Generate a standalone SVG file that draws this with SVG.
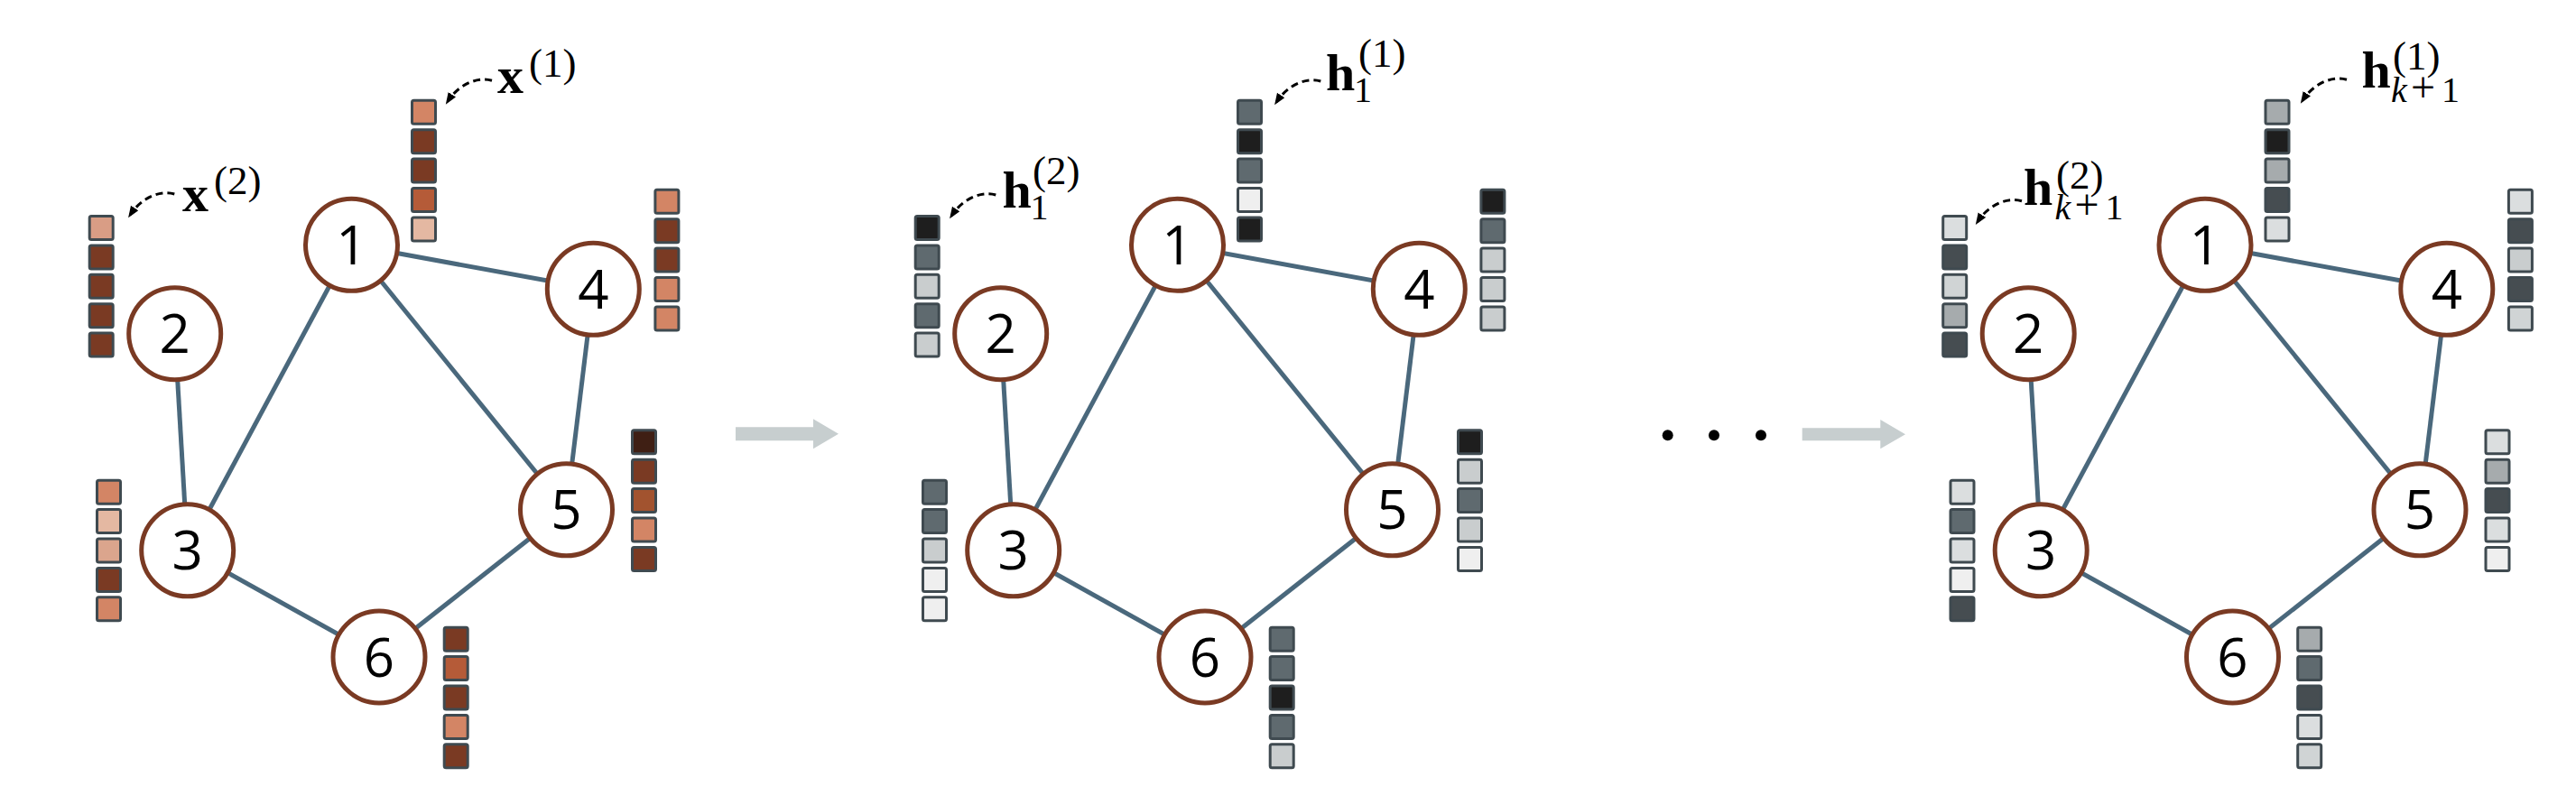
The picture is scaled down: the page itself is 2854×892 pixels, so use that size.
<svg xmlns="http://www.w3.org/2000/svg" xmlns:xlink="http://www.w3.org/1999/xlink" width="2854" height="892" viewBox="0 0 2854 892">
<style>
.edge{stroke:#4a687c;stroke-width:5;fill:none}
.node circle{fill:#fff;stroke:#7a3a23;stroke-width:5}
.node text{font-family:"Open Sans","Noto Sans",sans-serif;font-size:60px;text-anchor:middle;fill:#000}
.sq{stroke:#3f4a50;stroke-width:3}
.lbl{font-family:"Liberation Serif",serif;fill:#000}
.bold{font-weight:bold;font-size:58px}
.sup{font-size:45px}
.sub{font-size:40px}
.plus{font-size:48px}
.it{font-style:italic}
.dash{fill:none;stroke:#000;stroke-width:3;stroke-dasharray:8 5;marker-end:url(#ah)}
.flow{fill:#c7cecf}
</style>
<defs>
<marker id="ah" markerUnits="userSpaceOnUse" markerWidth="14" markerHeight="12" refX="9" refY="5" orient="auto">
<path d="M0,0 L13,5 L0,10 z" fill="#000"/>
</marker>
<path id="curl" class="dash" d="M0,0 C-18,-5 -38,6 -49,23"/>
</defs>
<rect width="2854" height="892" fill="#fff"/>

<!-- connectors -->
<g id="connectors">
<g id="edges-p1">
<line class="edge" x1="389.5" y1="271.3" x2="657.3" y2="320.3"/>
<line class="edge" x1="389.5" y1="271.3" x2="207.7" y2="609.8"/>
<line class="edge" x1="389.5" y1="271.3" x2="627.5" y2="564.8"/>
<line class="edge" x1="193.7" y1="369.7" x2="207.7" y2="609.8"/>
<line class="edge" x1="657.3" y1="320.3" x2="627.5" y2="564.8"/>
<line class="edge" x1="207.7" y1="609.8" x2="420" y2="728"/>
<line class="edge" x1="627.5" y1="564.8" x2="420" y2="728"/>
</g>
<g id="edges-p2" transform="translate(915,0)">
<line class="edge" x1="389.5" y1="271.3" x2="657.3" y2="320.3"/>
<line class="edge" x1="389.5" y1="271.3" x2="207.7" y2="609.8"/>
<line class="edge" x1="389.5" y1="271.3" x2="627.5" y2="564.8"/>
<line class="edge" x1="193.7" y1="369.7" x2="207.7" y2="609.8"/>
<line class="edge" x1="657.3" y1="320.3" x2="627.5" y2="564.8"/>
<line class="edge" x1="207.7" y1="609.8" x2="420" y2="728"/>
<line class="edge" x1="627.5" y1="564.8" x2="420" y2="728"/>
</g>
<g id="edges-p3" transform="translate(2053.5,0)">
<line class="edge" x1="389.5" y1="271.3" x2="657.3" y2="320.3"/>
<line class="edge" x1="389.5" y1="271.3" x2="207.7" y2="609.8"/>
<line class="edge" x1="389.5" y1="271.3" x2="627.5" y2="564.8"/>
<line class="edge" x1="193.7" y1="369.7" x2="207.7" y2="609.8"/>
<line class="edge" x1="657.3" y1="320.3" x2="627.5" y2="564.8"/>
<line class="edge" x1="207.7" y1="609.8" x2="420" y2="728"/>
<line class="edge" x1="627.5" y1="564.8" x2="420" y2="728"/>
</g>
<path id="flow1" class="flow" d="M815,473.3 H901 V464.3 L929,480.8 L901,497.3 V488.3 H815 Z"/>
<path id="flow2" class="flow" d="M1996.7,474.3 H2083.3 V465 L2111,481.2 L2083.3,497.3 V488.3 H1996.7 Z"/>
<g id="label-arrows">
<use xlink:href="#curl" x="545" y="89.3"/>
<use xlink:href="#curl" x="193.3" y="215"/>
<use xlink:href="#curl" x="1463.3" y="90"/>
<use xlink:href="#curl" x="1103.3" y="216"/>
<use xlink:href="#curl" x="2600" y="88.3"/>
<use xlink:href="#curl" x="2240" y="222.7"/>
</g>
</g>

<g id="ellipsis" fill="#000">
<circle cx="1847.7" cy="482.3" r="6"/>
<circle cx="1899" cy="482.3" r="6"/>
<circle cx="1951" cy="482.3" r="6"/>
</g>

<!-- panel 1 -->
<g id="panel1">
<g id="p1-n1" class="node"><circle cx="389.5" cy="271.3" r="51"/><text x="389.5" y="292.8">1</text>
<g transform="translate(455,109.8)"><rect class="sq" x="1.5" y="1.5" width="26" height="26" rx="2" fill="#d38565"/><rect class="sq" x="1.5" y="33.9" width="26" height="26" rx="2" fill="#7a3a23"/><rect class="sq" x="1.5" y="66.3" width="26" height="26" rx="2" fill="#7a3a23"/><rect class="sq" x="1.5" y="98.7" width="26" height="26" rx="2" fill="#b55b38"/><rect class="sq" x="1.5" y="131.1" width="26" height="26" rx="2" fill="#e4b8a2"/></g></g>
<g id="p1-n2" class="node"><circle cx="193.7" cy="369.7" r="51"/><text x="193.7" y="391.2">2</text>
<g transform="translate(97.7,238)"><rect class="sq" x="1.5" y="1.5" width="26" height="26" rx="2" fill="#d99d85"/><rect class="sq" x="1.5" y="33.9" width="26" height="26" rx="2" fill="#7a3a23"/><rect class="sq" x="1.5" y="66.3" width="26" height="26" rx="2" fill="#7a3a23"/><rect class="sq" x="1.5" y="98.7" width="26" height="26" rx="2" fill="#7a3a23"/><rect class="sq" x="1.5" y="131.1" width="26" height="26" rx="2" fill="#7a3a23"/></g></g>
<g id="p1-n3" class="node"><circle cx="207.7" cy="609.8" r="51"/><text x="207.7" y="631.3">3</text>
<g transform="translate(106,530.7)"><rect class="sq" x="1.5" y="1.5" width="26" height="26" rx="2" fill="#d38565"/><rect class="sq" x="1.5" y="33.9" width="26" height="26" rx="2" fill="#e4b8a2"/><rect class="sq" x="1.5" y="66.3" width="26" height="26" rx="2" fill="#dba58d"/><rect class="sq" x="1.5" y="98.7" width="26" height="26" rx="2" fill="#7a3a23"/><rect class="sq" x="1.5" y="131.1" width="26" height="26" rx="2" fill="#d38565"/></g></g>
<g id="p1-n4" class="node"><circle cx="657.3" cy="320.3" r="51"/><text x="657.3" y="341.8">4</text>
<g transform="translate(724.4,208.8)"><rect class="sq" x="1.5" y="1.5" width="26" height="26" rx="2" fill="#d38565"/><rect class="sq" x="1.5" y="33.9" width="26" height="26" rx="2" fill="#7a3a23"/><rect class="sq" x="1.5" y="66.3" width="26" height="26" rx="2" fill="#7a3a23"/><rect class="sq" x="1.5" y="98.7" width="26" height="26" rx="2" fill="#d38565"/><rect class="sq" x="1.5" y="131.1" width="26" height="26" rx="2" fill="#d38565"/></g></g>
<g id="p1-n5" class="node"><circle cx="627.5" cy="564.8" r="51"/><text x="627.5" y="586.3">5</text>
<g transform="translate(699,475.3)"><rect class="sq" x="1.5" y="1.5" width="26" height="26" rx="2" fill="#3f1f14"/><rect class="sq" x="1.5" y="33.9" width="26" height="26" rx="2" fill="#7a3a23"/><rect class="sq" x="1.5" y="66.3" width="26" height="26" rx="2" fill="#a2532f"/><rect class="sq" x="1.5" y="98.7" width="26" height="26" rx="2" fill="#d38565"/><rect class="sq" x="1.5" y="131.1" width="26" height="26" rx="2" fill="#7a3a23"/></g></g>
<g id="p1-n6" class="node"><circle cx="420" cy="728" r="51"/><text x="420" y="749.5">6</text>
<g transform="translate(490.7,693.7)"><rect class="sq" x="1.5" y="1.5" width="26" height="26" rx="2" fill="#7a3a23"/><rect class="sq" x="1.5" y="33.9" width="26" height="26" rx="2" fill="#b55b38"/><rect class="sq" x="1.5" y="66.3" width="26" height="26" rx="2" fill="#7a3a23"/><rect class="sq" x="1.5" y="98.7" width="26" height="26" rx="2" fill="#d38565"/><rect class="sq" x="1.5" y="131.1" width="26" height="26" rx="2" fill="#7a3a23"/></g></g>
</g>

<!-- panel 2 -->
<g id="panel2" transform="translate(915,0)">
<g id="p2-n1" class="node"><circle cx="389.5" cy="271.3" r="51"/><text x="389.5" y="292.8">1</text>
<g transform="translate(455,109.8)"><rect class="sq" x="1.5" y="1.5" width="26" height="26" rx="2" fill="#5f6a6f"/><rect class="sq" x="1.5" y="33.9" width="26" height="26" rx="2" fill="#1e1e1e"/><rect class="sq" x="1.5" y="66.3" width="26" height="26" rx="2" fill="#5f6a6f"/><rect class="sq" x="1.5" y="98.7" width="26" height="26" rx="2" fill="#efefef"/><rect class="sq" x="1.5" y="131.1" width="26" height="26" rx="2" fill="#1e1e1e"/></g></g>
<g id="p2-n2" class="node"><circle cx="193.7" cy="369.7" r="51"/><text x="193.7" y="391.2">2</text>
<g transform="translate(97.7,238)"><rect class="sq" x="1.5" y="1.5" width="26" height="26" rx="2" fill="#1e1e1e"/><rect class="sq" x="1.5" y="33.9" width="26" height="26" rx="2" fill="#5f6a6f"/><rect class="sq" x="1.5" y="66.3" width="26" height="26" rx="2" fill="#c9cdce"/><rect class="sq" x="1.5" y="98.7" width="26" height="26" rx="2" fill="#5f6a6f"/><rect class="sq" x="1.5" y="131.1" width="26" height="26" rx="2" fill="#c9cdce"/></g></g>
<g id="p2-n3" class="node"><circle cx="207.7" cy="609.8" r="51"/><text x="207.7" y="631.3">3</text>
<g transform="translate(106,530.7)"><rect class="sq" x="1.5" y="1.5" width="26" height="26" rx="2" fill="#5f6a6f"/><rect class="sq" x="1.5" y="33.9" width="26" height="26" rx="2" fill="#5f6a6f"/><rect class="sq" x="1.5" y="66.3" width="26" height="26" rx="2" fill="#c9cdce"/><rect class="sq" x="1.5" y="98.7" width="26" height="26" rx="2" fill="#efefef"/><rect class="sq" x="1.5" y="131.1" width="26" height="26" rx="2" fill="#efefef"/></g></g>
<g id="p2-n4" class="node"><circle cx="657.3" cy="320.3" r="51"/><text x="657.3" y="341.8">4</text>
<g transform="translate(724.4,208.8)"><rect class="sq" x="1.5" y="1.5" width="26" height="26" rx="2" fill="#1e1e1e"/><rect class="sq" x="1.5" y="33.9" width="26" height="26" rx="2" fill="#5f6a6f"/><rect class="sq" x="1.5" y="66.3" width="26" height="26" rx="2" fill="#c9cdce"/><rect class="sq" x="1.5" y="98.7" width="26" height="26" rx="2" fill="#c9cdce"/><rect class="sq" x="1.5" y="131.1" width="26" height="26" rx="2" fill="#c9cdce"/></g></g>
<g id="p2-n5" class="node"><circle cx="627.5" cy="564.8" r="51"/><text x="627.5" y="586.3">5</text>
<g transform="translate(699,475.3)"><rect class="sq" x="1.5" y="1.5" width="26" height="26" rx="2" fill="#1e1e1e"/><rect class="sq" x="1.5" y="33.9" width="26" height="26" rx="2" fill="#c9cdce"/><rect class="sq" x="1.5" y="66.3" width="26" height="26" rx="2" fill="#5f6a6f"/><rect class="sq" x="1.5" y="98.7" width="26" height="26" rx="2" fill="#c9cdce"/><rect class="sq" x="1.5" y="131.1" width="26" height="26" rx="2" fill="#efefef"/></g></g>
<g id="p2-n6" class="node"><circle cx="420" cy="728" r="51"/><text x="420" y="749.5">6</text>
<g transform="translate(490.7,693.7)"><rect class="sq" x="1.5" y="1.5" width="26" height="26" rx="2" fill="#5f6a6f"/><rect class="sq" x="1.5" y="33.9" width="26" height="26" rx="2" fill="#5f6a6f"/><rect class="sq" x="1.5" y="66.3" width="26" height="26" rx="2" fill="#1e1e1e"/><rect class="sq" x="1.5" y="98.7" width="26" height="26" rx="2" fill="#5f6a6f"/><rect class="sq" x="1.5" y="131.1" width="26" height="26" rx="2" fill="#c9cdce"/></g></g>
</g>

<!-- panel 3 -->
<g id="panel3" transform="translate(2053.5,0)">
<g id="p3-n1" class="node"><circle cx="389.5" cy="271.3" r="51"/><text x="389.5" y="292.8">1</text>
<g transform="translate(455,109.8)"><rect class="sq" x="1.5" y="1.5" width="26" height="26" rx="2" fill="#a6abad"/><rect class="sq" x="1.5" y="33.9" width="26" height="26" rx="2" fill="#1e1e1e"/><rect class="sq" x="1.5" y="66.3" width="26" height="26" rx="2" fill="#a6abad"/><rect class="sq" x="1.5" y="98.7" width="26" height="26" rx="2" fill="#464d51"/><rect class="sq" x="1.5" y="131.1" width="26" height="26" rx="2" fill="#dbdedf"/></g></g>
<g id="p3-n2" class="node"><circle cx="193.7" cy="369.7" r="51"/><text x="193.7" y="391.2">2</text>
<g transform="translate(97.7,238)"><rect class="sq" x="1.5" y="1.5" width="26" height="26" rx="2" fill="#dbdedf"/><rect class="sq" x="1.5" y="33.9" width="26" height="26" rx="2" fill="#464d51"/><rect class="sq" x="1.5" y="66.3" width="26" height="26" rx="2" fill="#d0d4d5"/><rect class="sq" x="1.5" y="98.7" width="26" height="26" rx="2" fill="#a6abad"/><rect class="sq" x="1.5" y="131.1" width="26" height="26" rx="2" fill="#464d51"/></g></g>
<g id="p3-n3" class="node"><circle cx="207.7" cy="609.8" r="51"/><text x="207.7" y="631.3">3</text>
<g transform="translate(106,530.7)"><rect class="sq" x="1.5" y="1.5" width="26" height="26" rx="2" fill="#dbdedf"/><rect class="sq" x="1.5" y="33.9" width="26" height="26" rx="2" fill="#5f6a6f"/><rect class="sq" x="1.5" y="66.3" width="26" height="26" rx="2" fill="#dbdedf"/><rect class="sq" x="1.5" y="98.7" width="26" height="26" rx="2" fill="#efefef"/><rect class="sq" x="1.5" y="131.1" width="26" height="26" rx="2" fill="#464d51"/></g></g>
<g id="p3-n4" class="node"><circle cx="657.3" cy="320.3" r="51"/><text x="657.3" y="341.8">4</text>
<g transform="translate(724.4,208.8)"><rect class="sq" x="1.5" y="1.5" width="26" height="26" rx="2" fill="#dbdedf"/><rect class="sq" x="1.5" y="33.9" width="26" height="26" rx="2" fill="#464d51"/><rect class="sq" x="1.5" y="66.3" width="26" height="26" rx="2" fill="#c9cdce"/><rect class="sq" x="1.5" y="98.7" width="26" height="26" rx="2" fill="#464d51"/><rect class="sq" x="1.5" y="131.1" width="26" height="26" rx="2" fill="#d0d4d5"/></g></g>
<g id="p3-n5" class="node"><circle cx="627.5" cy="564.8" r="51"/><text x="627.5" y="586.3">5</text>
<g transform="translate(699,475.3)"><rect class="sq" x="1.5" y="1.5" width="26" height="26" rx="2" fill="#dbdedf"/><rect class="sq" x="1.5" y="33.9" width="26" height="26" rx="2" fill="#a6abad"/><rect class="sq" x="1.5" y="66.3" width="26" height="26" rx="2" fill="#464d51"/><rect class="sq" x="1.5" y="98.7" width="26" height="26" rx="2" fill="#dbdedf"/><rect class="sq" x="1.5" y="131.1" width="26" height="26" rx="2" fill="#efefef"/></g></g>
<g id="p3-n6" class="node"><circle cx="420" cy="728" r="51"/><text x="420" y="749.5">6</text>
<g transform="translate(490.7,693.7)"><rect class="sq" x="1.5" y="1.5" width="26" height="26" rx="2" fill="#a6abad"/><rect class="sq" x="1.5" y="33.9" width="26" height="26" rx="2" fill="#5f6a6f"/><rect class="sq" x="1.5" y="66.3" width="26" height="26" rx="2" fill="#464d51"/><rect class="sq" x="1.5" y="98.7" width="26" height="26" rx="2" fill="#dbdedf"/><rect class="sq" x="1.5" y="131.1" width="26" height="26" rx="2" fill="#d0d4d5"/></g></g>
</g>

<!-- labels -->
<g id="labels">
<text id="label-x1" class="lbl"><tspan class="bold" x="551" y="103.3">x</tspan><tspan class="sup" x="586" y="85">(1)</tspan></text>
<text id="label-x2" class="lbl"><tspan class="bold" x="202" y="234.3">x</tspan><tspan class="sup" x="237" y="215">(2)</tspan></text>
<text id="label-h11" class="lbl"><tspan class="bold" x="1469" y="100">h</tspan><tspan class="sup" x="1505" y="74">(1)</tspan><tspan class="sub" x="1500" y="113.3">1</tspan></text>
<text id="label-h12" class="lbl"><tspan class="bold" x="1110.5" y="230">h</tspan><tspan class="sup" x="1144" y="204">(2)</tspan><tspan class="sub" x="1141.5" y="242.7">1</tspan></text>
<text id="label-hk1" class="lbl"><tspan class="bold" x="2616.5" y="97.3">h</tspan><tspan class="sup" x="2651" y="77">(1)</tspan><tspan class="sub it" x="2649" y="112.7">k</tspan><tspan class="plus" x="2671">+</tspan><tspan class="sub" x="2705">1</tspan></text>
<text id="label-hk2" class="lbl"><tspan class="bold" x="2242" y="226.7">h</tspan><tspan class="sup" x="2278" y="208.5">(2)</tspan><tspan class="sub it" x="2276.5" y="242.7">k</tspan><tspan class="plus" x="2298.5">+</tspan><tspan class="sub" x="2332.5">1</tspan></text>
</g>
</svg>
